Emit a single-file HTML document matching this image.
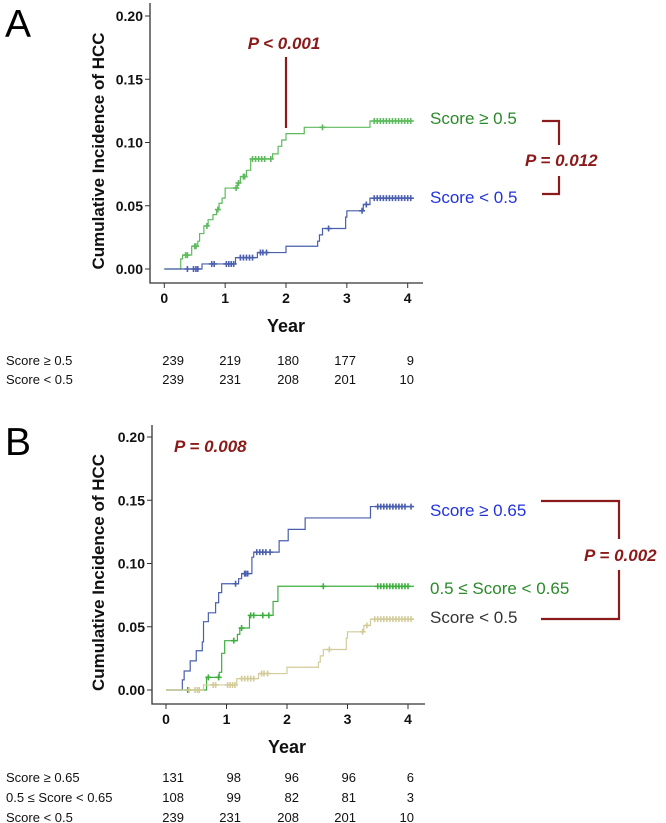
<!DOCTYPE html>
<html><head><meta charset="utf-8"><style>
html,body{margin:0;padding:0;background:#fff;}
svg{display:block;font-family:"Liberation Sans",sans-serif;}
</style></head><body>
<svg id="fig" width="666" height="823" viewBox="0 0 666 823" xmlns="http://www.w3.org/2000/svg">
<g id="A"></g>
<g id="B"></g>
</svg>
<script>
const xTicks=[0,1,2,3,4];
const yTickLabels=["0.00","0.05","0.10","0.15","0.20"];
const yTicks=[0,0.05,0.10,0.15,0.20];
// Panel A series
const aHighT=[0.27,0.30,0.45,0.55,0.58,0.65,0.72,0.80,0.86,0.90,0.95,1.0,1.2,1.25,1.35,1.42,1.78,1.87,1.93,2.0,2.3,3.38];
const aHighV=[0.008,0.011,0.018,0.022,0.028,0.034,0.039,0.043,0.047,0.052,0.056,0.064,0.068,0.073,0.078,0.087,0.091,0.097,0.102,0.107,0.112,0.117];
const aHighC=[0.35,0.38,0.5,0.52,0.7,0.88,1.18,1.22,1.3,1.32,1.45,1.5,1.55,1.6,1.65,1.75,2.6,3.45,3.5,3.55,3.6,3.65,3.7,3.75,3.8,3.85,3.9,3.95,4.0,4.05];
const aLowT=[0.62,1.17,1.53,2.0,2.52,2.55,2.6,2.98,3.0,3.27,3.38];
const aLowV=[0.004,0.009,0.013,0.018,0.022,0.027,0.032,0.041,0.046,0.051,0.056];
const aLowC=[0.38,0.48,0.52,0.55,0.78,0.82,1.02,1.06,1.1,1.14,1.25,1.3,1.35,1.4,1.45,1.58,1.62,1.68,2.7,3.25,3.32,3.45,3.5,3.55,3.6,3.65,3.7,3.75,3.8,3.85,3.9,3.95,4.0,4.05];
// Panel B series
const bHighT=[0.27,0.30,0.40,0.50,0.60,0.62,0.70,0.82,0.87,0.92,1.2,1.25,1.42,1.45,1.87,2.02,2.3,3.38];
const bHighV=[0.008,0.015,0.023,0.031,0.038,0.054,0.061,0.069,0.077,0.084,0.088,0.092,0.105,0.109,0.118,0.127,0.136,0.145];
const bHighC=[1.15,1.3,1.32,1.35,1.5,1.55,1.6,1.65,1.72,3.5,3.55,3.6,3.65,3.7,3.75,3.8,3.85,3.9,3.95,4.05];
const bMidT=[0.67,0.88,0.92,0.97,1.18,1.22,1.38,1.77,1.85];
const bMidV=[0.010,0.014,0.029,0.039,0.044,0.049,0.059,0.070,0.082];
const bMidC=[0.36,0.7,0.87,1.12,1.25,1.4,1.45,1.6,1.7,2.6,3.5,3.55,3.6,3.65,3.7,3.75,3.8,3.85,3.9,3.95,4.0];
const bLowT=aLowT, bLowV=aLowV, bLowC=aLowC;
const aRiskRows=[["Score \u2265 0.5",[239,219,180,177,9]],["Score < 0.5",[239,231,208,201,10]]];
const bRiskRows=[["Score \u2265 0.65",[131,98,96,96,6]],["0.5 \u2264 Score < 0.65",[108,99,82,81,3]],["Score < 0.5",[239,231,208,201,10]]];

const NS="http://www.w3.org/2000/svg";
function mk(parent,tag,attrs,text){const e=document.createElementNS(NS,tag);for(const k in attrs)e.setAttribute(k,attrs[k]);if(text!==undefined)e.textContent=text;parent.appendChild(e);return e;}

function panel(g,o){
  const sx=t=>o.x0+t*(o.x4-o.x0)/4;
  const sy=v=>o.y0-v*(o.y0-o.y20)/0.2;
  const ax=mk(g,'path',{d:`M${o.ax},${o.top} V${o.bot} H${o.right}`,stroke:'#333',fill:'none','stroke-width':1.3});
  
  yTicks.forEach((v,i)=>{
    const t=mk(g,'line',{x1:o.ax-5,x2:o.ax,y1:sy(v),y2:sy(v),stroke:'#333'});
    
    const l=mk(g,'text',{x:o.ax-7,y:sy(v)+5,'text-anchor':'end','font-size':14,'font-weight':'bold',fill:'#111'},yTickLabels[i]);
    
  });
  xTicks.forEach(v=>{
    const t=mk(g,'line',{x1:sx(v),x2:sx(v),y1:o.bot,y2:o.bot+5,stroke:'#333'});
    
    const l=mk(g,'text',{x:sx(v),y:o.bot+20,'text-anchor':'middle','font-size':14,'font-weight':'bold',fill:'#111'},String(v));
    
  });
  const xt=mk(g,'text',{x:(o.x0+o.x4)/2,y:o.bot+49,'text-anchor':'middle','font-size':18,'font-weight':'bold',fill:'#111'},'Year');
  
  const yc=(o.top+o.bot)/2+8;
  const yt=mk(g,'text',{x:0,y:0,transform:`translate(104,${yc}) rotate(-90)`,'text-anchor':'middle','font-size':17,'font-weight':'bold',fill:'#111'},'Cumulative Incidence of HCC');
  
  o.series.forEach(s=>{
    let d=`M${sx(0)},${sy(0)}`;
    s.T.forEach((t,i)=>{d+=` H${sx(t)} V${sy(s.V[i])}`;});
    d+=` H${sx(4.1)}`;
    const p=mk(g,'path',{d,stroke:s.c,fill:'none','stroke-width':1.2});
    
    s.C.forEach(t=>{
      let v=0;s.T.forEach((tt,i)=>{if(tt<=t)v=s.V[i];});
      const m=mk(g,'path',{d:`M${sx(t)-3},${sy(v)} h6 M${sx(t)},${sy(v)-3} v6`,stroke:s.c,'stroke-width':1.6});
      
    });
  });
  o.risk.rows.forEach((r,ri)=>{
    const y=o.risk.y+ri*o.risk.dy;
    const l=mk(g,'text',{x:6,y,'font-size':13,fill:'#111'},r[0]);
    
    r[1].forEach((n,ci)=>{
      const c=mk(g,'text',{x:o.risk.xs[ci],y,'text-anchor':'end','font-size':13,fill:'#111'},String(n));
      
    });
  });
}
const riskX=[184,241,299,356,414];
panel(document.getElementById('A'),{x0:164.3,x4:407.7,y0:269,y20:16,ax:150,top:3,bot:283,right:423,
  series:[{name:'score-high',T:aHighT,V:aHighV,C:aHighC,c:'#5dbb5d'},{name:'score-low',T:aLowT,V:aLowV,C:aLowC,c:'#4a5fae'}],
  risk:{rows:aRiskRows,y:365,dy:19,xs:riskX}});
panel(document.getElementById('B'),{x0:166,x4:408,y0:690,y20:437,ax:152,top:425,bot:704,right:425,
  series:[{name:'score-high',T:bHighT,V:bHighV,C:bHighC,c:'#4a5fae'},{name:'score-mid',T:bMidT,V:bMidV,C:bMidC,c:'#3eae3e'},{name:'score-low',T:bLowT,V:bLowV,C:bLowC,c:'#d3cc9a'}],
  risk:{rows:bRiskRows,y:782,dy:20,xs:riskX}});
</script>
<svg width="666" height="823" style="position:absolute;left:0;top:0" xmlns="http://www.w3.org/2000/svg">
<g font-family="Liberation Sans, sans-serif">
<text x="5" y="37" font-size="39" fill="#000">A</text>
<text x="5" y="455" font-size="39" fill="#000">B</text>
<text x="284" y="49" text-anchor="middle" font-size="17" font-weight="bold" font-style="italic" fill="#8b1a1a">P &lt; 0.001</text>
<line x1="286" y1="57" x2="286" y2="128" stroke="#8b1a1a" stroke-width="2.2"/>
<text x="430" y="124" font-size="17" fill="#2a8a2a">Score ≥ 0.5</text>
<text x="430" y="203" font-size="17" fill="#2233dd">Score &lt; 0.5</text>
<path d="M542,121 H559 V145 M559,176 V194 H542" stroke="#8b1a1a" stroke-width="2.2" fill="none"/>
<text x="525" y="166" font-size="17" font-weight="bold" font-style="italic" fill="#8b1a1a">P = 0.012</text>
<text x="174" y="452" font-size="17" font-weight="bold" font-style="italic" fill="#8b1a1a">P  = 0.008</text>
<text x="430" y="516" font-size="17" fill="#2233dd">Score ≥ 0.65</text>
<text x="430" y="594" font-size="17" fill="#2a8a2a">0.5 ≤ Score &lt; 0.65</text>
<text x="430" y="623" font-size="17" fill="#333">Score &lt; 0.5</text>
<path d="M541,501 H619 V539 M619,570 V619 H541" stroke="#8b1a1a" stroke-width="2.2" fill="none"/>
<text x="584" y="561" font-size="17" font-weight="bold" font-style="italic" fill="#8b1a1a">P  = 0.002</text>
</g>
</svg>
</body></html>
